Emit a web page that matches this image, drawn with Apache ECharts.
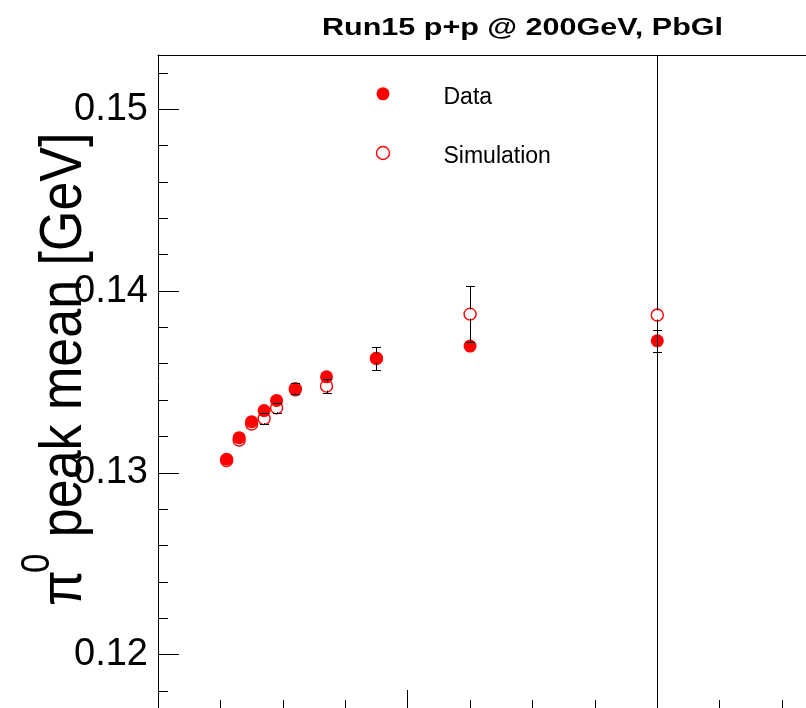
<!DOCTYPE html>
<html><head><meta charset="utf-8">
<script src="https://cdn.jsdelivr.net/npm/echarts@6/dist/echarts.min.js"></script>
<style>html,body{margin:0;padding:0;background:#fff}#c{width:806px;height:708px}</style>
</head><body><div id="c"></div>
<script>
// ---- data ----
const pT = [1.375, 1.625, 1.875, 2.125, 2.375, 2.75, 3.375, 4.375, 6.25, 10];
const dataMean = [0.13075, 0.13193, 0.13281, 0.13342, 0.13398, 0.13455, 0.13528, 0.13630, 0.13697, 0.13726];
const dataErr  = [0.0001, 0.0001, 0.0001, 0.0001, 0.0001, 0.0001, 0.0001, 0.00063, 0.0002, 0.00062];
const simMean  = [0.13067, 0.13180, 0.13268, 0.13298, 0.13358, 0.13463, 0.13477, 0.13629, 0.13873, 0.13868];
const simErr   = [0.0001, 0.0002, 0.0002, 0.00032, 0.00027, 0.0003, 0.00039, 0.0002, 0.00154, 0.05];
const yMajorTicks = [0.12, 0.13, 0.14, 0.15];
const yMinorTicks = [0.118, 0.122, 0.124, 0.126, 0.128, 0.132, 0.134, 0.136, 0.138, 0.142, 0.144, 0.146, 0.148, 0.152];
const titleText = 'Run15 p+p @ 200GeV, PbGl';
const legendNames = ['Data', 'Simulation'];

const Y_MIN = 0.117056, Y_MAX = 0.152988;
const X_MIN = 0, X_MAX = 12.978;

const ctx = document.createElement('canvas').getContext('2d');
function textW(font, s) { ctx.font = font; return ctx.measureText(s).width; }

const TITLE_FONT = 'bold 23px "Liberation Sans"';
const titleScale = 401 / textW(TITLE_FONT, titleText);

const NF = 52, SF = 35;
const NAME_FONT = NF + 'px "Liberation Sans"';
const SUP_FONT = SF + 'px "Liberation Sans"';
const wPi = textW(NAME_FONT, 'π');
const wSup = textW(SUP_FONT, '0');

function errRenderer(params, api) {
  const x = api.value(0), y = api.value(1), e = api.value(2);
  const cs = params.coordSys;
  const c = api.coord([x, y]);
  let top = api.coord([x, y + e])[1];
  let bot = api.coord([x, y - e])[1];
  const R = 4.5, W = 4.5;
  const px = Math.round(c[0]) + 0.5;
  const style = { stroke: '#000', lineWidth: 1 };
  const ch = [];
  if (c[1] - top > R) {
    const capTop = top >= cs.y;
    top = Math.max(top, cs.y);
    const ty = Math.round(top) + 0.5;
    ch.push({ type: 'line', shape: { x1: px, y1: c[1] - R, x2: px, y2: ty }, style });
    if (capTop) ch.push({ type: 'line', shape: { x1: px - W, y1: ty, x2: px + W, y2: ty }, style });
  }
  if (bot - c[1] > R) {
    const capBot = bot <= cs.y + cs.height;
    bot = Math.min(bot, cs.y + cs.height);
    const by = Math.round(bot) + 0.5;
    ch.push({ type: 'line', shape: { x1: px, y1: c[1] + R, x2: px, y2: by }, style });
    if (capBot) ch.push({ type: 'line', shape: { x1: px - W, y1: by, x2: px + W, y2: by }, style });
  }
  return { type: 'group', children: ch };
}

const chart = echarts.init(document.getElementById('c'), null, { renderer: 'canvas' });
const blackLine = { color: '#000', width: 1 };
const option = {
  animation: false,
  backgroundColor: '#fff',
  grid: { left: 158, top: 55, right: 0, bottom: 0, containLabel: false },
  xAxis: [
    { type: 'value', min: X_MIN, max: X_MAX, interval: 5, position: 'bottom',
      axisLine: { show: false, onZero: false },
      axisTick: { show: true, inside: true, length: 18, lineStyle: blackLine },
      minorTick: { show: true, splitNumber: 4, length: 8, lineStyle: blackLine },
      axisLabel: { show: false }, splitLine: { show: false } },
    { type: 'value', min: X_MIN, max: X_MAX, position: 'top',
      axisLine: { show: true, onZero: false, lineStyle: blackLine },
      axisTick: { show: false }, axisLabel: { show: false }, splitLine: { show: false } }
  ],
  yAxis: [
    { type: 'value', min: Y_MIN, max: Y_MAX, position: 'left',
      axisLine: { show: true, onZero: false, lineStyle: blackLine },
      axisTick: { show: true, inside: true, length: 21, customValues: yMajorTicks, lineStyle: blackLine },
      axisLabel: { show: true, customValues: yMajorTicks, formatter: v => v.toFixed(2),
        fontFamily: 'Liberation Sans', fontSize: 38, color: '#000', margin: 10 },
      splitLine: { show: false } },
    { type: 'value', min: Y_MIN, max: Y_MAX, position: 'left',
      axisLine: { show: false, onZero: false },
      axisTick: { show: true, inside: true, length: 10, customValues: yMinorTicks, lineStyle: blackLine },
      axisLabel: { show: false }, splitLine: { show: false } }
  ],
  legend: {
    orient: 'vertical', left: 375.8, top: 86.3, padding: 0, itemWidth: 13, itemHeight: 13, itemGap: 36.2,
    selectedMode: false,
    data: [
      { name: legendNames[0], icon: 'circle', itemStyle: { color: '#ff0000', borderWidth: 0, opacity: 1 } },
      { name: legendNames[1], icon: 'circle', itemStyle: { color: 'rgba(255,255,255,0)', borderColor: '#ff0000', borderWidth: 1.4, opacity: 1 } }
    ],
    formatter: name => '{t|' + name + '}',
    textStyle: { fontFamily: 'Liberation Sans', fontSize: 23, color: '#000',
      rich: { t: { fontFamily: 'Liberation Sans', fontSize: 23, color: '#000', padding: [8, 0, 0, 49] } } }
  },
  series: [
    { name: legendNames[1], type: 'scatter', xAxisIndex: 0, yAxisIndex: 0, z: 2,
      symbol: 'circle', symbolSize: 12,
      itemStyle: { color: 'rgba(255,255,255,0)', borderColor: '#ff0000', borderWidth: 1.4, opacity: 1 },
      emphasis: { disabled: true },
      data: pT.map((x, i) => [x, simMean[i]]) },
    { name: legendNames[0], type: 'scatter', xAxisIndex: 0, yAxisIndex: 0, z: 3,
      symbol: 'circle', symbolSize: 13,
      itemStyle: { color: '#ff0000', opacity: 1 },
      emphasis: { disabled: true },
      data: pT.map((x, i) => [x, dataMean[i]]) },
    { name: 'simErr', type: 'custom', xAxisIndex: 0, yAxisIndex: 0, z: 4, clip: true,
      renderItem: errRenderer, data: pT.map((x, i) => [x, simMean[i], simErr[i]]) },
    { name: 'dataErr', type: 'custom', xAxisIndex: 0, yAxisIndex: 0, z: 4, clip: true,
      renderItem: errRenderer, data: pT.map((x, i) => [x, dataMean[i], dataErr[i]]) }
  ],
  graphic: [
    { type: 'text', x: 322, y: 28.5, scaleX: titleScale,
      style: { text: titleText, font: TITLE_FONT, fill: '#000', textAlign: 'left', textVerticalAlign: 'middle' } },
    { type: 'group', x: 85, y: 606, rotation: Math.PI / 2, scaleY: 1.15,
      children: [
        { type: 'text', x: 0, y: -0.35 * NF,
          style: { text: 'π', font: NAME_FONT, fill: '#000', textAlign: 'left', textVerticalAlign: 'middle' } },
        { type: 'text', x: wPi - 3, y: -0.55 * NF - 0.35 * SF,
          style: { text: '0', font: SUP_FONT, fill: '#000', textAlign: 'left', textVerticalAlign: 'middle' } },
        { type: 'text', x: wPi + wSup - 1, y: -0.35 * NF,
          style: { text: ' peak mean [GeV]', font: NAME_FONT, fill: '#000', textAlign: 'left', textVerticalAlign: 'middle' } }
      ] }
  ]
};
chart.setOption(option);
</script>
</body></html>
